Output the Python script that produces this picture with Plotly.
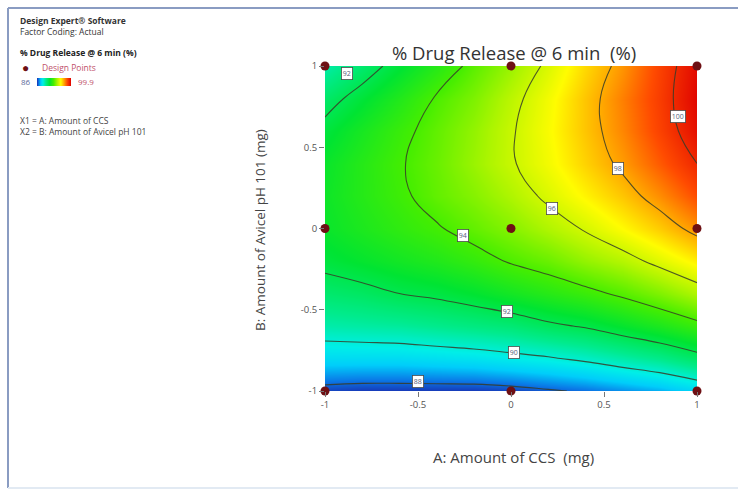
import plotly.graph_objects as go

W, H = 738, 492

# Coded factor levels (A: Amount of CCS, B: Amount of Avicel pH 101)
grid_a = [-1.0, -0.8, -0.6, -0.4, -0.2, 0.0, 0.2, 0.4, 0.6, 0.8, 1.0]
grid_b = [-1.0, -0.8, -0.6, -0.4, -0.2, 0.0, 0.2, 0.4, 0.6, 0.8, 1.0]

# Predicted % drug release @ 6 min; rows follow grid_b (bottom to top), columns grid_a
release = [
    [87.7, 87.6, 87.6, 87.6, 87.6, 87.7, 87.9, 88.1, 88.4, 88.7, 89.2],
    [89.3, 89.3, 89.3, 89.4, 89.5, 89.7, 89.9, 90.2, 90.6, 91.0, 91.6],
    [90.6, 90.7, 90.8, 91.0, 91.2, 91.4, 91.8, 92.1, 92.6, 93.1, 93.7],
    [91.5, 91.7, 92.0, 92.2, 92.5, 92.9, 93.3, 93.7, 94.2, 94.8, 95.5],
    [92.3, 92.6, 92.9, 93.2, 93.6, 94.1, 94.5, 95.1, 95.6, 96.3, 97.0],
    [92.7, 93.1, 93.5, 93.9, 94.4, 94.9, 95.5, 96.1, 96.8, 97.5, 98.3],
    [92.8, 93.3, 93.8, 94.4, 94.9, 95.5, 96.2, 96.9, 97.6, 98.4, 99.3],
    [92.7, 93.3, 93.9, 94.5, 95.2, 95.9, 96.6, 97.4, 98.2, 99.1, 100.0],
    [92.3, 93.0, 93.7, 94.4, 95.1, 95.9, 96.7, 97.6, 98.5, 99.5, 100.5],
    [91.6, 92.4, 93.2, 94.1, 94.8, 95.7, 96.6, 97.6, 98.6, 99.6, 100.7],
    [90.6, 91.5, 92.4, 93.3, 94.3, 95.2, 96.2, 97.3, 98.3, 99.5, 100.6],
]

# Design points (3x3 factorial with centre point)
design_a = [-1, 0, 1, -1, 0, 1, -1, 0, 1]
design_b = [-1, -1, -1, 0, 0, 0, 1, 1, 1]

# Contour levels and where their boxed labels sit (A, B)
contour_levels = [88, 90, 92, 94, 96, 98, 100]
label_values = [92, 94, 96, 98, 100, 92, 90, 88]
label_a = [-0.88, -0.26, 0.22, 0.575, 0.90, -0.02, 0.015, -0.50]
label_b = [0.955, -0.045, 0.125, 0.37, 0.69, -0.51, -0.765, -0.94]

tick_vals = [-1, -0.5, 0, 0.5, 1]
tick_text = ["-1", "-0.5", "0", "0.5", "1"]

legend_min, legend_max = "86", "99.9"

z_lo, z_hi = 87.5, 100.8


def stop(z):
    return (z - z_lo) / (z_hi - z_lo)


colorscale = [
    [stop(87.5), "rgb(25,45,175)"],
    [stop(88.2), "rgb(10,120,230)"],
    [stop(89.0), "rgb(0,205,250)"],
    [stop(89.8), "rgb(0,238,232)"],
    [stop(91.0), "rgb(0,235,140)"],
    [stop(92.5), "rgb(0,228,50)"],
    [stop(94.0), "rgb(70,238,0)"],
    [stop(95.5), "rgb(175,245,0)"],
    [stop(96.8), "rgb(255,252,0)"],
    [stop(98.0), "rgb(255,170,0)"],
    [stop(99.3), "rgb(255,75,0)"],
    [stop(100.8), "rgb(222,0,0)"],
]


def px(x):
    return x / W


def py(y):
    return 1 - y / H


FONT = "Open Sans"
PLOT_L, PLOT_R, PLOT_T, PLOT_B = 325, 697, 66, 391

fig = go.Figure()

fig.add_trace(go.Heatmap(
    x=grid_a, y=grid_b, z=release, zsmooth="best",
    colorscale=colorscale, zmin=z_lo, zmax=z_hi,
    colorbar=dict(
        orientation="h", x=px(54), xanchor="center", y=py(82), yanchor="middle",
        len=34, lenmode="pixels", thickness=8, thicknessmode="pixels",
        outlinewidth=0, showticklabels=False, ticks="", xpad=0, ypad=0,
    ),
    hoverinfo="skip",
))

fig.add_trace(go.Contour(
    x=grid_a, y=grid_b, z=release,
    contours=dict(start=contour_levels[0], end=contour_levels[-1], size=2, coloring="none"),
    line=dict(color="rgba(55,60,40,0.85)", width=1.1, smoothing=1.2),
    showscale=False, hoverinfo="skip",
))

fig.add_trace(go.Scatter(
    x=design_a, y=design_b, mode="markers",
    marker=dict(size=9, color="#6e1014"),
    cliponaxis=False, showlegend=False, hoverinfo="skip",
))

annotations = []
for v, a, b in zip(label_values, label_a, label_b):
    annotations.append(dict(
        x=a, y=b, xref="x", yref="y", text=str(v), showarrow=False,
        xanchor="center", yanchor="middle",
        font=dict(family=FONT, size=7, color="#55607a"),
        bgcolor="white", bordercolor="#4a4a4a", borderwidth=0.8, borderpad=1,
    ))

# Chart and axis titles
annotations += [
    dict(x=px(514), y=py(52), xref="paper", yref="paper", text="% Drug Release @ 6 min  (%)",
         xanchor="center", yanchor="middle",
         showarrow=False, font=dict(family=FONT, size=18.5, color="#333333")),
    dict(x=px(513), y=py(457), xref="paper", yref="paper", text="A: Amount of CCS  (mg)",
         xanchor="center", yanchor="middle",
         showarrow=False, font=dict(family=FONT, size=15, color="#444444")),
    dict(x=px(260), y=py(230), xref="paper", yref="paper", text="B: Amount of Avicel pH 101 (mg)",
         xanchor="center", yanchor="middle",
         showarrow=False, textangle=-90, font=dict(family=FONT, size=13.5, color="#444444")),
]

# Side information panel
info = [
    (18, 26, "<b>Design Expert® Software</b><br>Factor Coding: Actual", "#333333", 8.5),
    (18, 53, "<b>% Drug Release @ 6 min (%)</b>", "#222222", 8.5),
    (40, 67, "Design Points", "#c0506a", 8.5),
    (18, 125.5, "X1 = A: Amount of CCS<br>X2 = B: Amount of Avicel pH 101", "#444444", 8.5),
]
for x0, y0, t, c, s in info:
    annotations.append(dict(x=px(x0), y=py(y0), xref="paper", yref="paper", text=t,
                            xanchor="left", yanchor="middle", align="left", showarrow=False,
                            font=dict(family=FONT, size=s, color=c)))
annotations += [
    dict(x=px(26), y=py(67), xref="paper", yref="paper", text="●", showarrow=False,
         xanchor="center", yanchor="middle", font=dict(size=12, color="#6e1014")),
    dict(x=px(33), y=py(82), xref="paper", yref="paper", text=legend_min, showarrow=False,
         xanchor="right", yanchor="middle", font=dict(family=FONT, size=8, color="#5a6a9a")),
    dict(x=px(76), y=py(82), xref="paper", yref="paper", text=legend_max, showarrow=False,
         xanchor="left", yanchor="middle", font=dict(family=FONT, size=8, color="#c0506a")),
]

# Window frame
shapes = [
    dict(type="line", xref="paper", yref="paper", x0=px(8), x1=px(8), y0=py(8), y1=py(488),
         line=dict(color="#8a9cc2", width=2)),
    dict(type="line", xref="paper", yref="paper", x0=px(8), x1=px(738), y0=py(8), y1=py(8),
         line=dict(color="#8a9cc2", width=2)),
    dict(type="line", xref="paper", yref="paper", x0=px(8), x1=px(738), y0=py(488), y1=py(488),
         line=dict(color="#e2eaf3", width=2)),
]

axis_common = dict(
    range=[-1, 1], tickvals=tick_vals, ticktext=tick_text, ticks="outside", ticklen=5,
    tickcolor="#777777", tickfont=dict(family=FONT, size=9.5, color="#555555"),
    showgrid=False, zeroline=False, showline=False,
)

fig.update_layout(
    width=W, height=H, margin=dict(l=0, r=0, t=0, b=0, autoexpand=False),
    paper_bgcolor="white", plot_bgcolor="white",
    xaxis=dict(domain=[px(PLOT_L), px(PLOT_R)], **axis_common),
    yaxis=dict(domain=[py(PLOT_B), py(PLOT_T)], **axis_common),
    annotations=annotations, shapes=shapes, showlegend=False,
)

fig.write_html("out.html")
